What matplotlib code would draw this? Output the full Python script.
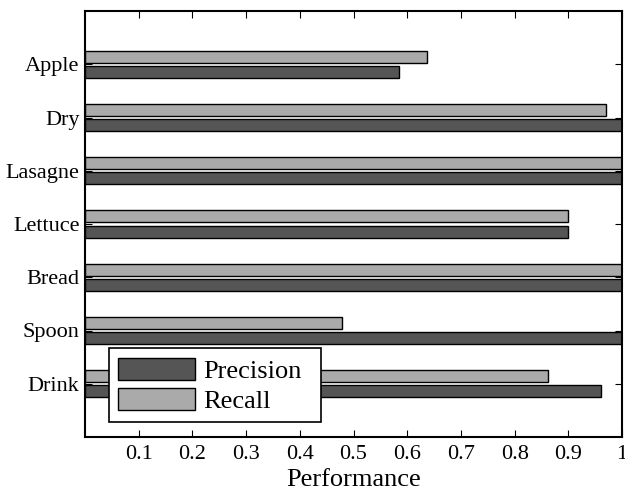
import matplotlib
matplotlib.use("Agg")
import matplotlib.pyplot as plt
import numpy as np

categories = ["Drink", "Spoon", "Bread", "Lettuce", "Lasagne", "Dry", "Apple"]
precision = [0.961, 1.0, 1.0, 0.900, 1.0, 1.0, 0.585]
recall = [0.862, 0.478, 1.0, 0.900, 1.0, 0.970, 0.637]
xticks = [0.1, 0.2, 0.3, 0.4, 0.5, 0.6, 0.7, 0.8, 0.9, 1.0]
xticklabels = ["0.1", "0.2", "0.3", "0.4", "0.5", "0.6", "0.7", "0.8", "0.9", "1"]

plt.rcParams['font.family'] = ['Liberation Serif', 'DejaVu Serif']

fig = plt.figure(figsize=(6.25, 4.92), dpi=100)
ax = fig.add_axes([85/625, 1-437/492, 537/625, 426/492])

y = np.arange(1, len(categories) + 1)
h = 0.229
off = 0.143
ax.barh(y - off, precision, height=h, color="#555555", edgecolor="black", linewidth=1.0, label="Precision")
ax.barh(y + off, recall, height=h, color="#aaaaaa", edgecolor="black", linewidth=1.0, label="Recall")

ax.set_xlim(0, 1)
ax.set_ylim(0, 8)
ax.set_yticks(y)
ax.set_yticklabels(categories, fontsize=16)
ax.set_xticks(xticks)
ax.set_xticklabels(xticklabels, fontsize=16)
ax.set_xlabel("Performance", fontsize=19, labelpad=3)
ax.tick_params(direction="in", length=5, width=0.8, top=True, right=True)
ax.tick_params(axis="y", pad=4)
ax.tick_params(axis="x", pad=6)
for s in ax.spines.values():
    s.set_linewidth(1.5)

leg = ax.legend(loc="lower left", bbox_to_anchor=(24/537, 15/426, 212/537, 73/426),
                mode="expand", fontsize=19,
                frameon=True, fancybox=False, edgecolor="black", framealpha=1,
                handlelength=2.9, handleheight=0.92, handletextpad=0.32,
                borderpad=0.35, labelspacing=0.18, borderaxespad=0)
leg.get_frame().set_linewidth(1.2)

fig.savefig("out.png", dpi=100)
